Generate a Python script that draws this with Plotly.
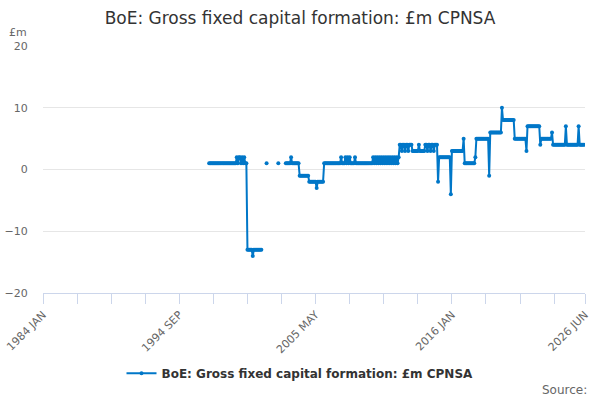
import pandas as pd
from plotly import graph_objects as go

# monthly series, first value is 1997 JAN
start_month = "1997-01-01"
v1997 = [1, 1, 1, 1, 1, 1, 1, 1, 1, 1, 1, 1]
v1998 = [1, 1, 1, 1, 1, 1, 1, 1, 1, 1, 1, 1]
v1999 = [1, 1, 2, 1, 2, 2, 1, 2, 1, 2, 1, 1]
v2000 = [-13, -13, -13, -13, -13, -14, -13, -13, -13, -13, -13, -13]
v2001 = [-13, -13, None, None, None, None, 1, None, None, None, None, None]
v2002 = [None, None, None, None, None, 1, None, None, None, None, None, None]
v2003 = [1, 1, 1, 1, 1, 2, 1, 1, 1, 1, 1, 1]
v2004 = [1, -1, -1, -1, -1, -1, -1, -1, -1, -1, -2, -2]
v2005 = [-2, -2, -2, -2, -2, -3, -2, -2, -2, -2, -2, -2]
v2006 = [1, 1, 1, 1, 1, 1, 1, 1, 1, 1, 1, 1]
v2007 = [1, 1, 1, 1, 2, 1, 1, 1, 2, 1, 2, 1]
v2008 = [2, 1, 1, 1, 1, 2, 1, 1, 1, 1, 1, 1]
v2009 = [1, 1, 1, 1, 1, 1, 1, 1, 1, 1, 2, 1]
v2010 = [2, 1, 2, 1, 2, 1, 2, 1, 2, 1, 2, 1]
v2011 = [2, 1, 2, 1, 2, 1, 2, 1, 2, 1, 2, 4]
v2012 = [4, 3, 4, 4, 3, 4, 4, 3, 4, 4, 4, 3]
v2013 = [3, 3, 3, 3, 3, 4, 3, 3, 3, 3, 3, 4]
v2014 = [4, 3, 4, 4, 3, 4, 4, 3, 4, 4, 4, -2]
v2015 = [2, 2, 2, 2, 2, 2, 2, 2, 2, 2, 2, -4]
v2016 = [3, 3, 3, 3, 3, 3, 3, 3, 3, 3, 3, 5]
v2017 = [1, 1, 1, 1, 1, 1, 1, 1, 1, 1, 2, 5]
v2018 = [5, 5, 5, 5, 5, 5, 5, 5, 5, 5, 5, -1]
v2019 = [6, 6, 6, 6, 6, 6, 6, 6, 6, 6, 6, 10]
v2020 = [8, 8, 8, 8, 8, 8, 8, 8, 8, 8, 8, 5]
v2021 = [5, 5, 5, 5, 5, 5, 5, 5, 5, 5, 3, 7]
v2022 = [7, 7, 7, 7, 7, 7, 7, 7, 7, 7, 7, 4]
v2023 = [5, 5, 5, 5, 5, 5, 5, 5, 5, 5, 6, 4]
v2024 = [4, 4, 4, 4, 4, 4, 4, 4, 4, 4, 4, 7]
v2025 = [4, 4, 4, 4, 4, 4, 4, 4, 4, 4, 4, 7]
v2026 = [4, 4, 4, 4, 4]

tick_dates = ["1984-01-01", "1986-09-01", "1989-05-01", "1992-01-01", "1994-09-01",
              "1997-05-01", "2000-01-01", "2002-09-01", "2005-05-01", "2008-01-01",
              "2010-09-01", "2013-05-01", "2016-01-01", "2018-09-01", "2021-05-01",
              "2024-01-01", "2026-06-01"]
tick_labels = ["1984 JAN", "", "", "", "1994 SEP", "", "", "", "2005 MAY", "", "",
               "", "2016 JAN", "", "", "", "2026 JUN"]

series_name = "BoE: Gross fixed capital formation: £m CPNSA"


def main():
    values = (v1997 + v1998 + v1999 + v2000 + v2001 + v2002 + v2003 + v2004 + v2005
              + v2006 + v2007 + v2008 + v2009 + v2010 + v2011 + v2012 + v2013 + v2014
              + v2015 + v2016 + v2017 + v2018 + v2019 + v2020 + v2021 + v2022 + v2023
              + v2024 + v2025 + v2026)
    dates = pd.date_range(start_month, periods=len(values), freq="MS")

    blue = "#0077c8"
    fig = go.Figure()
    fig.add_trace(go.Scatter(
        x=dates, y=values, name=series_name, mode="lines+markers",
        line=dict(color=blue, width=2),
        marker=dict(color=blue, size=4),
        connectgaps=False,
    ))

    font = "DejaVu Sans"
    fig.update_layout(
        width=600, height=400,
        margin=dict(l=43, r=15, t=46, b=107),
        plot_bgcolor="white", paper_bgcolor="white",
        font=dict(family=font, color="#666666", size=11),
        title=dict(text="BoE: Gross fixed capital formation: £m CPNSA",
                   x=0.5, xref="container", xanchor="center",
                   y=0.955, yref="container", yanchor="middle",
                   font=dict(size=17, color="#333333")),
        showlegend=True,
        legend=dict(orientation="h", xref="container", x=0.5, xanchor="center",
                    yref="container", y=0.067, yanchor="middle",
                    font=dict(size=12, color="#333333", family=font, weight="bold"),
                    itemwidth=30),
    )
    fig.update_yaxes(
        range=[-20, 20], dtick=10, tick0=0, automargin=False,
        showgrid=True, gridcolor="#e6e6e6", gridwidth=1,
        zeroline=False, showline=False,
        ticks="outside", ticklen=12, tickcolor="rgba(0,0,0,0)",
        tickfont=dict(size=11, color="#666666"),
    )
    fig.update_xaxes(
        type="date", range=["1984-01-01", "2026-06-01"], automargin=False,
        tickmode="array", tickvals=tick_dates, ticktext=tick_labels,
        tickangle=-45, showgrid=False, zeroline=False,
        showline=True, linecolor="#ccd6eb", linewidth=1,
        ticks="outside", ticklen=10, tickcolor="#ccd6eb",
        tickfont=dict(size=11, color="#666666"),
    )
    fig.add_annotation(text="£m", xref="paper", yref="paper", x=-0.025, y=1.055,
                       xanchor="right", yanchor="middle", showarrow=False,
                       font=dict(size=11, color="#666666"))
    fig.add_annotation(text="Source:", xref="paper", yref="paper", x=1.008, y=-0.393,
                       xanchor="right", yanchor="middle", showarrow=False,
                       font=dict(size=12, color="#666666"))
    # page body has a default margin, drop it so the 600x400 figure fits the window
    fig.write_html("out.html", config={"displayModeBar": False},
                   post_script="document.body.style.margin='0';")


if __name__ == "__main__":
    main()
